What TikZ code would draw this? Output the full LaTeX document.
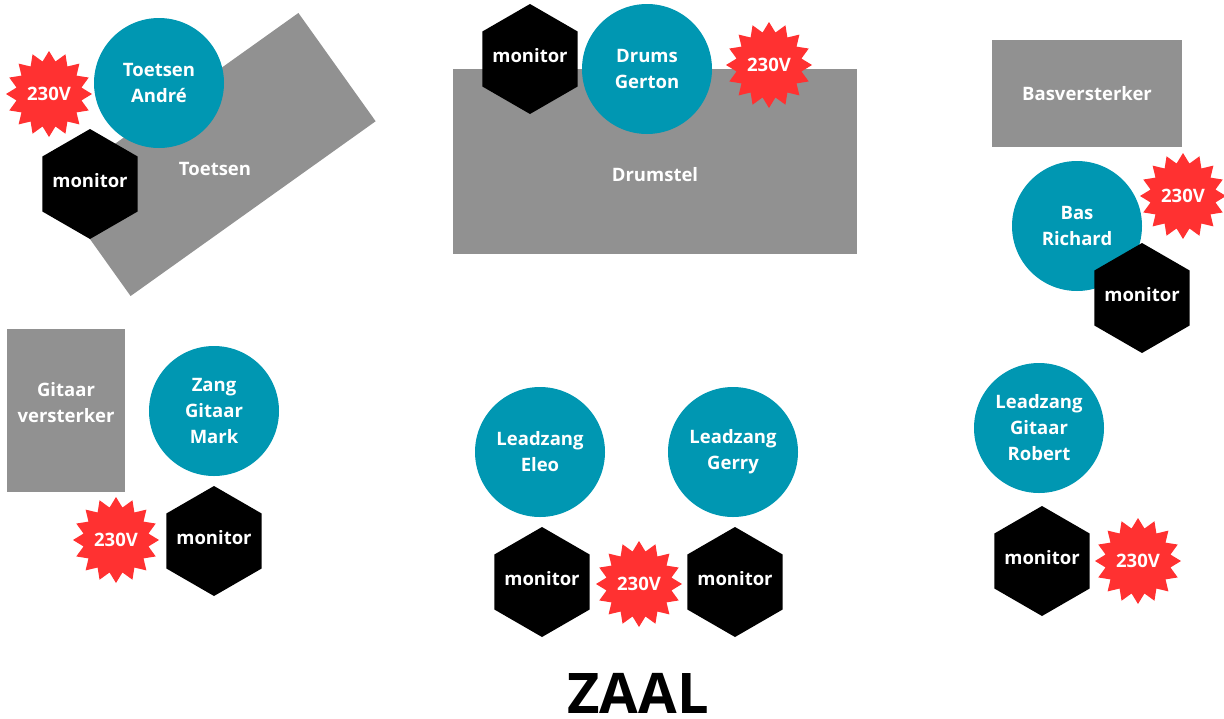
\documentclass[tikz,border=0pt]{standalone}
\usepackage{fontspec}
\setmainfont{Open Sans}
\usetikzlibrary{shapes.geometric}
\definecolor{teal1}{RGB}{0,151,178}
\definecolor{grey1}{RGB}{145,145,145}
\definecolor{red1}{RGB}{255,49,49}
\newcommand{\scherm}{\makebox[0pt]{monitor}}
\begin{document}
\begin{tikzpicture}[x=1pt,y=-1pt]
 \tikzset{pers/.style={circle, fill=teal1, minimum size=130pt, inner sep=0pt, text=white, align=center, font=\fontsize{18.5}{26}\selectfont\bfseries},
   mon/.style={regular polygon, regular polygon sides=6, shape border rotate=30, fill=black, minimum size=110pt, inner sep=0pt, text depth=8pt, text=white, font=\fontsize{18.5}{26}\selectfont\bfseries},
   power/.style={star, star points=16, star point ratio=1.3, fill=red1, minimum size=86pt, inner sep=0pt, text=white, font=\fontsize{18.5}{26}\selectfont\bfseries},
   amp/.style={rectangle, fill=grey1, inner sep=0pt},
   lbl/.style={text=white, align=center, font=\fontsize{18.5}{26}\selectfont\bfseries}}
  \useasboundingbox (0,0) rectangle (1224,718);
  % blokken
  \node[amp, minimum width=301pt, minimum height=133pt, rotate=35.5] (B1) at (214.5,154.5) {};
  \node[lbl] (L1) at (215,169) {Toetsen};
  \node[amp, minimum width=404pt, minimum height=185pt] (B2) at (655,161.5) {};
  \node[lbl] (L2) at (655,175) {Drumstel};
  \node[amp, minimum width=190pt, minimum height=107pt] (B3) at (1087,93.5) {};
  \node[lbl] (L3) at (1087,94) {Basversterker};
  \node[amp, minimum width=118pt, minimum height=163pt] (B4) at (66,410.5) {};
  \node[lbl] (L4) at (66,403) {Gitaar\\versterker};
  % muzikanten
  \node[pers] (P1) at (159,83) {Toetsen\\Andr\'e};
  \node[pers] (P2) at (647,69) {Drums\\Gerton};
  \node[pers] (P3) at (1077,226) {Bas\\Richard};
  \node[pers] (P4) at (214,411) {Zang\\Gitaar\\Mark};
  \node[pers] (P5) at (540,452) {Leadzang\\Eleo};
  \node[pers] (P6) at (733,452) {Leadzang\\Gerry};
  \node[pers] (P7) at (1039,428) {Leadzang\\Gitaar\\Robert};
  % monitoren
  \node[mon] (M1) at (90,184) {\scherm};
  \node[mon] (M2) at (530,59) {\scherm};
  \node[mon] (M3) at (1142,298) {\scherm};
  \node[mon] (M4) at (214,541) {\scherm};
  \node[mon] (M5) at (542,582) {\scherm};
  \node[mon] (M6) at (735,582) {\scherm};
  \node[mon] (M7) at (1042,561) {\scherm};
  % stroom
  \node[power] (V1) at (49,94) {230V};
  \node[power] (V2) at (769,65) {230V};
  \node[power] (V3) at (1183,196) {230V};
  \node[power] (V4) at (116,540) {230V};
  \node[power] (V5) at (639,584) {230V};
  \node[power] (V6) at (1138,561) {230V};
  \node[font=\fontsize{56}{60}\selectfont\bfseries, anchor=base, inner sep=0pt] (Z) at (638,713) {ZAAL};
\end{tikzpicture}
\end{document}
